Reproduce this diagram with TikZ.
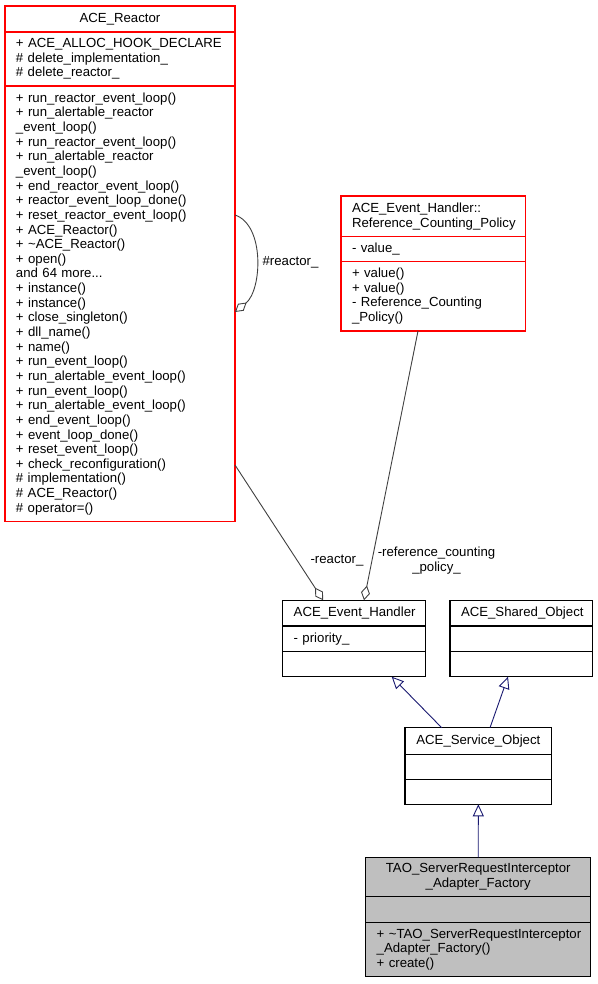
\documentclass[tikz,border=0pt]{standalone}
\usepackage{fontspec}
\setmainfont{Liberation Sans}
\usetikzlibrary{arrows.meta}
\definecolor{edgegray}{HTML}{404040}
\definecolor{inhblue}{HTML}{191970}
\definecolor{facgray}{HTML}{BFBFBF}
\begin{document}
\begin{tikzpicture}[x=1pt,y=-1pt,
  every node/.style={font=\fontsize{13.2}{14.64}\selectfont},
  sec/.style={draw, line width=1.1pt, anchor=north west, inner xsep=11pt, inner ysep=0pt, outer sep=0pt, align=left},
  rsec/.style={sec, draw=red},
  bsec/.style={sec, draw=black},
  gsec/.style={sec, draw=black, fill=facgray},
  agg/.style={draw=edgegray, line width=0.9pt, -{Diamond[open,length=15pt,width=9pt]}},
  inh/.style={draw=inhblue, line width=0.9pt, -{Triangle[open,length=12pt,width=11pt]}},
  lbl/.style={text=black}
]
\useasboundingbox (0,0) rectangle (597,984);

% ACE_Reactor
\node[rsec, minimum width=230pt, text width=208pt, minimum height=26pt, align=center] (reT) at (5,6) {ACE\_Reactor};
\node[rsec, minimum width=230pt, text width=208pt, minimum height=54pt] (reA) at (reT.south west)
 {+~ACE\_ALLOC\_HOOK\_DECLARE\\\#~delete\_implementation\_\\\#~delete\_reactor\_};
\node[rsec, minimum width=230pt, text width=208pt, minimum height=435.7pt] (reM) at (reA.south west)
 {+~run\_reactor\_event\_loop()\\
+~run\_alertable\_reactor\\
\_event\_loop()\\
+~run\_reactor\_event\_loop()\\
+~run\_alertable\_reactor\\
\_event\_loop()\\
+~end\_reactor\_event\_loop()\\
+~reactor\_event\_loop\_done()\\
+~reset\_reactor\_event\_loop()\\
+~ACE\_Reactor()\\
+~\textasciitilde ACE\_Reactor()\\
+~open()\\
and 64 more...\\
+~instance()\\
+~instance()\\
+~close\_singleton()\\
+~dll\_name()\\
+~name()\\
+~run\_event\_loop()\\
+~run\_alertable\_event\_loop()\\
+~run\_event\_loop()\\
+~run\_alertable\_event\_loop()\\
+~end\_event\_loop()\\
+~event\_loop\_done()\\
+~reset\_event\_loop()\\
+~check\_reconfiguration()\\
\#~implementation()\\
\#~ACE\_Reactor()\\
\#~operator=()};

% Reference_Counting_Policy
\node[rsec, minimum width=184.3pt, text width=162.3pt, minimum height=40.7pt] (rfT) at (341,196)
 {ACE\_Event\_Handler::\\Reference\_Counting\_Policy};
\node[rsec, minimum width=184.3pt, text width=162.3pt, minimum height=24.6pt] (rfA) at (rfT.south west) {-~value\_};
\node[rsec, minimum width=184.3pt, text width=162.3pt, minimum height=69.7pt] (rfM) at (rfA.south west)
 {+~value()\\+~value()\\-~Reference\_Counting\\\_Policy()};

% ACE_Event_Handler
\node[bsec, minimum width=143pt, text width=121pt, minimum height=25.7pt, align=center] (ehT) at (282.7,600.3) {ACE\_Event\_Handler};
\node[bsec, minimum width=143pt, text width=121pt, minimum height=25.3pt] (ehA) at (ehT.south west) {-~priority\_};
\node[bsec, minimum width=143pt, text width=121pt, minimum height=25.4pt] (ehM) at (ehA.south west) {};

% ACE_Shared_Object
\node[bsec, minimum width=142.7pt, text width=120.7pt, minimum height=25.7pt, align=center] (soT) at (450,600.3) {ACE\_Shared\_Object};
\node[bsec, minimum width=142.7pt, text width=120.7pt, minimum height=25.3pt] (soA) at (soT.south west) {};
\node[bsec, minimum width=142.7pt, text width=120.7pt, minimum height=25.4pt] (soM) at (soA.south west) {};

% ACE_Service_Object
\node[bsec, minimum width=146.7pt, text width=124.7pt, minimum height=26.6pt, align=center] (svT) at (405,727.7) {ACE\_Service\_Object};
\node[bsec, minimum width=146.7pt, text width=124.7pt, minimum height=25pt] (svA) at (svT.south west) {};
\node[bsec, minimum width=146.7pt, text width=124.7pt, minimum height=25pt] (svM) at (svA.south west) {};

% TAO_ServerRequestInterceptor_Adapter_Factory
\node[gsec, minimum width=225pt, text width=203pt, minimum height=39.4pt, align=center] (taT) at (365.7,857.3)
 {TAO\_ServerRequestInterceptor\\\_Adapter\_Factory};
\node[gsec, minimum width=225pt, text width=203pt, minimum height=25.6pt] (taA) at (taT.south west) {};
\node[gsec, minimum width=225pt, text width=203pt, minimum height=54.4pt] (taM) at (taA.south west)
 {+~\textasciitilde TAO\_ServerRequestInterceptor\\\_Adapter\_Factory()\\+~create()};

% aggregation edges
\draw[agg] ([yshift=-129pt]reM.north east) .. controls (265,225) and (262,290) .. ([yshift=-226pt]reM.north east);
\node[lbl] (lbA) at (290.5,262.7) {\#reactor\_};

\draw[agg] ([yshift=-379pt]reM.north east) -- ([xshift=40.5pt]ehT.north west);
\node[lbl] (lbB) at (337,561) {-reactor\_};

\draw[agg] ([xshift=77pt]rfM.south west) -- ([xshift=81.3pt]ehT.north west);
\node[lbl, align=center] (lbC) at (436.5,560.8) {-reference\_counting\\\_policy\_};

% inheritance edges
\draw[inh] ([xshift=36.7pt]svT.north west) -- ([xshift=109pt]ehM.south west);
\draw[inh] ([xshift=85pt]svT.north west) -- ([xshift=58pt]soM.south west);
\draw[inh] (taT.north) -- (svM.south);
\end{tikzpicture}
\end{document}
